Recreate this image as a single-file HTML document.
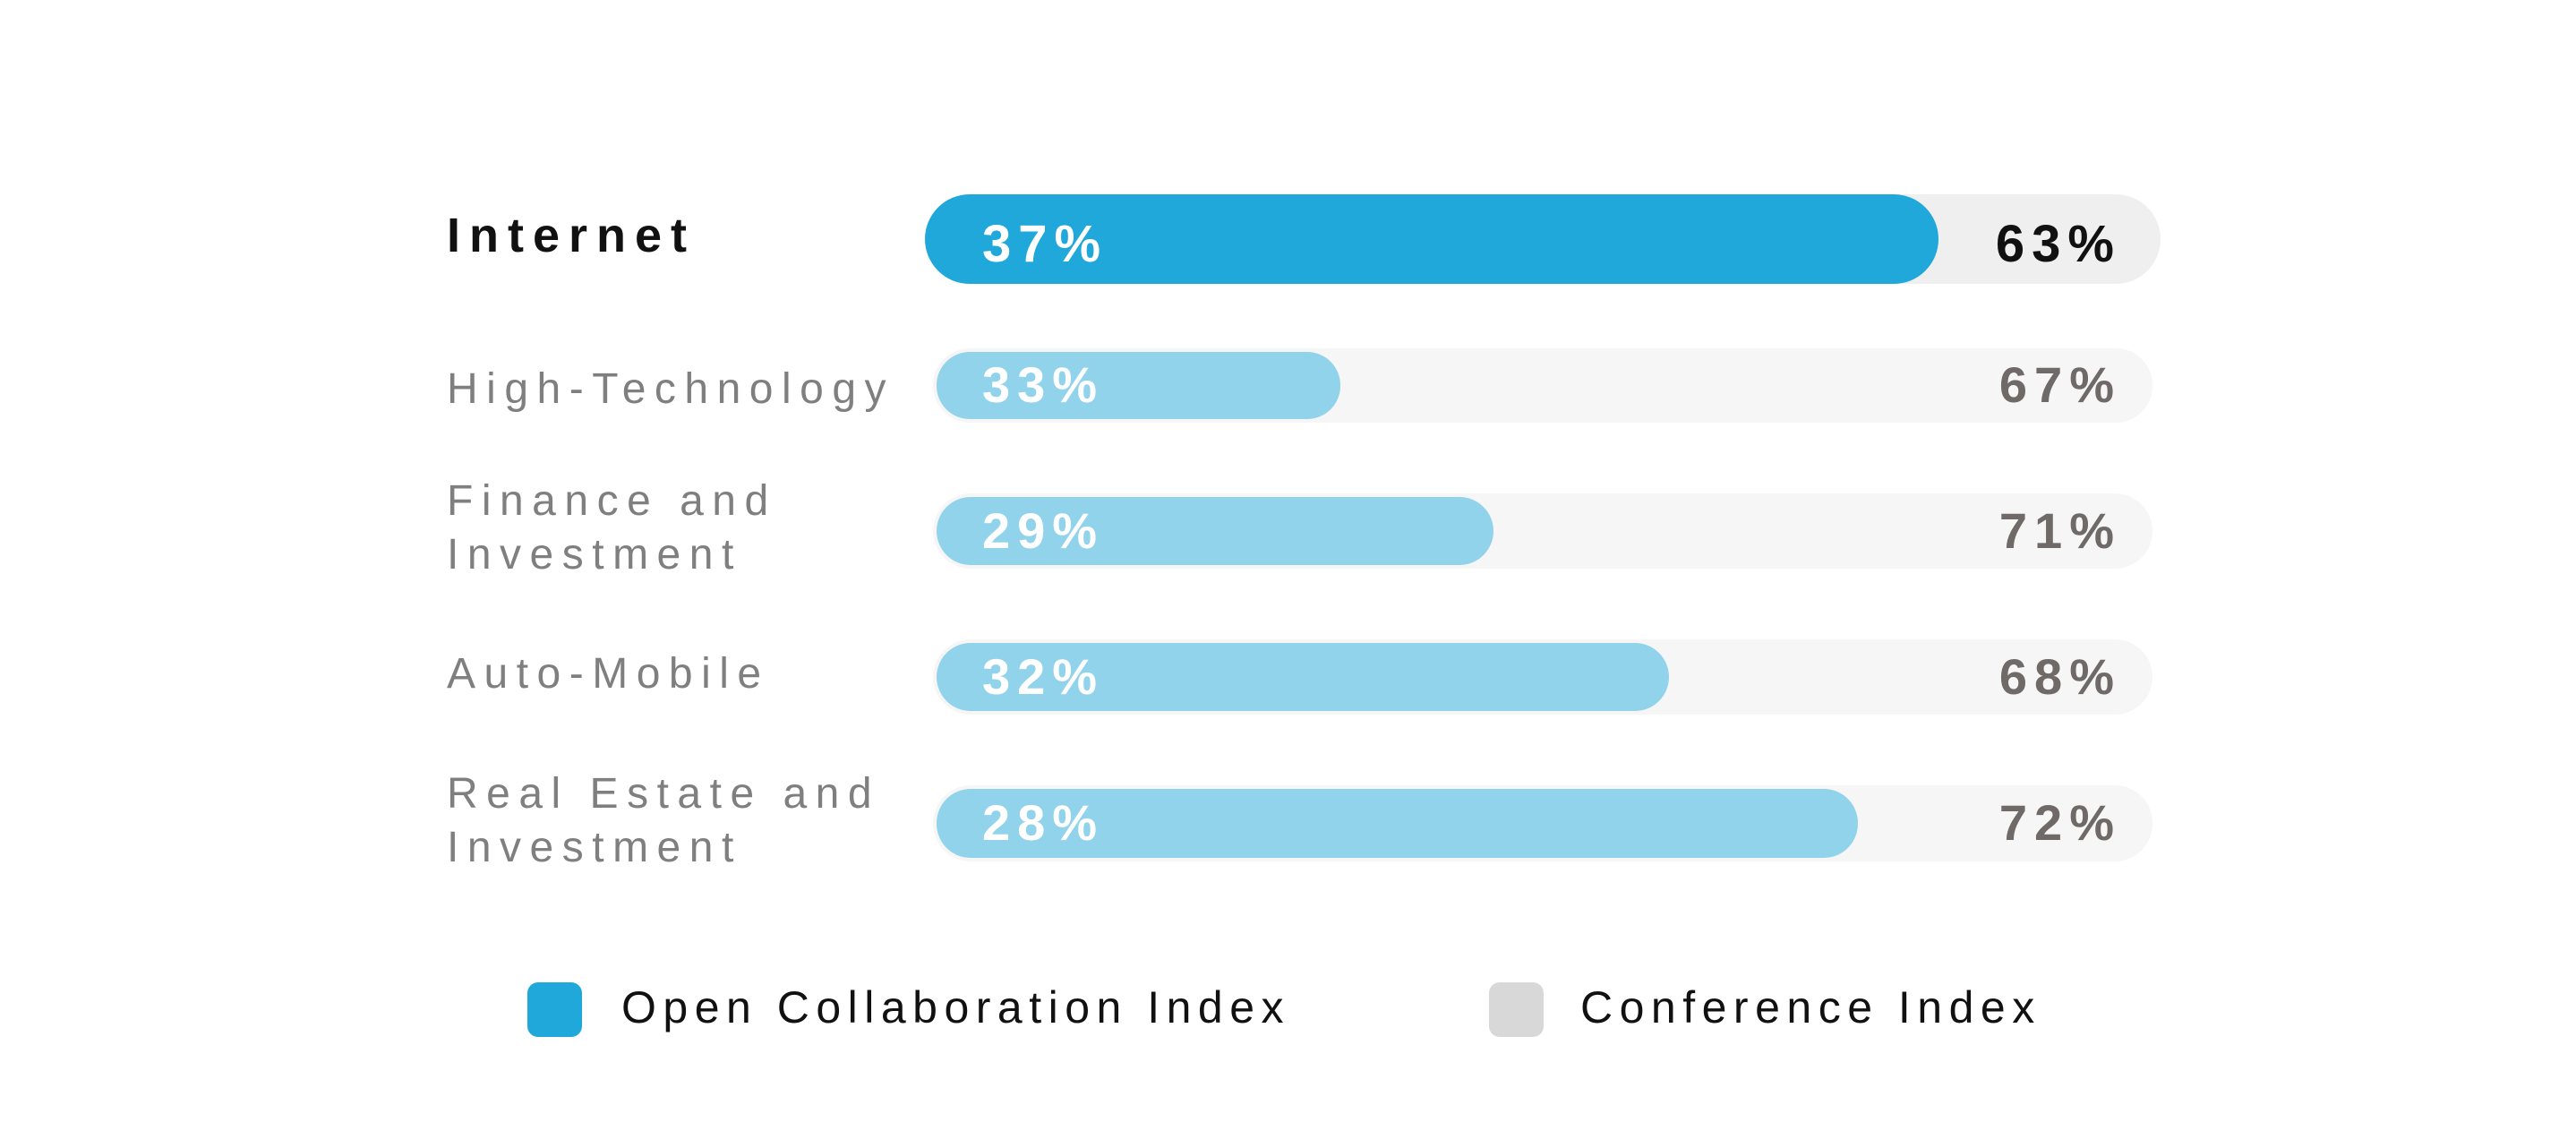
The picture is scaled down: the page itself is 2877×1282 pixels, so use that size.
<!DOCTYPE html>
<html><head><meta charset="utf-8"><style>
html,body{margin:0;padding:0;background:#fff;}
svg{display:block;}
text{font-family:"Liberation Sans","DejaVu Sans",sans-serif;}
</style></head><body>
<svg width="2877" height="1282" viewBox="0 0 2877 1282" xmlns="http://www.w3.org/2000/svg">
<rect width="2877" height="1282" fill="#fff"/>
<!-- Internet -->
<rect x="1033" y="217" width="1380" height="100" rx="50" fill="#efefef"/>
<rect x="1033" y="217" width="1132" height="100" rx="50" fill="#21a8da"/>
<text x="499" y="281" font-size="54" font-weight="bold" letter-spacing="10" fill="#111">Internet</text>
<text x="1097" y="292" font-size="58" font-weight="bold" letter-spacing="8" fill="#fff">37%</text>
<text x="2369" y="292" font-size="58" font-weight="bold" letter-spacing="8" fill="#111" text-anchor="end">63%</text>
<!-- rows -->
<g font-size="48" letter-spacing="9.5" fill="#7f7f7f">
<text x="499" y="450">High-Technology</text>
<text x="499" y="575">Finance and</text>
<text x="499" y="635">Investment</text>
<text x="499" y="768">Auto-Mobile</text>
<text x="499" y="902">Real Estate and</text>
<text x="499" y="962">Investment</text>
</g>
<rect x="1042" y="389" width="1362" height="83" rx="41" fill="#f6f6f6"/>
<rect x="1046" y="393" width="451" height="75" rx="37" fill="#92d3ec"/>
<rect x="1042" y="551" width="1362" height="84" rx="42" fill="#f6f6f6"/>
<rect x="1046" y="555" width="622" height="76" rx="38" fill="#92d3ec"/>
<rect x="1042" y="714" width="1362" height="84" rx="42" fill="#f6f6f6"/>
<rect x="1046" y="718" width="818" height="76" rx="38" fill="#92d3ec"/>
<rect x="1042" y="877" width="1362" height="85" rx="42" fill="#f6f6f6"/>
<rect x="1046" y="881" width="1029" height="77" rx="38" fill="#92d3ec"/>
<g font-size="56" font-weight="bold" letter-spacing="8" fill="#fff">
<text x="1097" y="449">33%</text>
<text x="1097" y="612">29%</text>
<text x="1097" y="775">32%</text>
<text x="1097" y="938">28%</text>
</g>
<g font-size="56" font-weight="bold" letter-spacing="8" fill="#6f6a68" text-anchor="end">
<text x="2369" y="449">67%</text>
<text x="2369" y="612">71%</text>
<text x="2369" y="775">68%</text>
<text x="2369" y="938">72%</text>
</g>
<!-- legend -->
<rect x="589" y="1097" width="61" height="61" rx="12" fill="#21a8da"/>
<rect x="1663" y="1097" width="61" height="61" rx="12" fill="#d8d8d8"/>
<g font-size="50" letter-spacing="7.5" fill="#111">
<text x="694" y="1142">Open Collaboration Index</text>
<text x="1765" y="1142">Conference Index</text>
</g>
</svg>
</body></html>
